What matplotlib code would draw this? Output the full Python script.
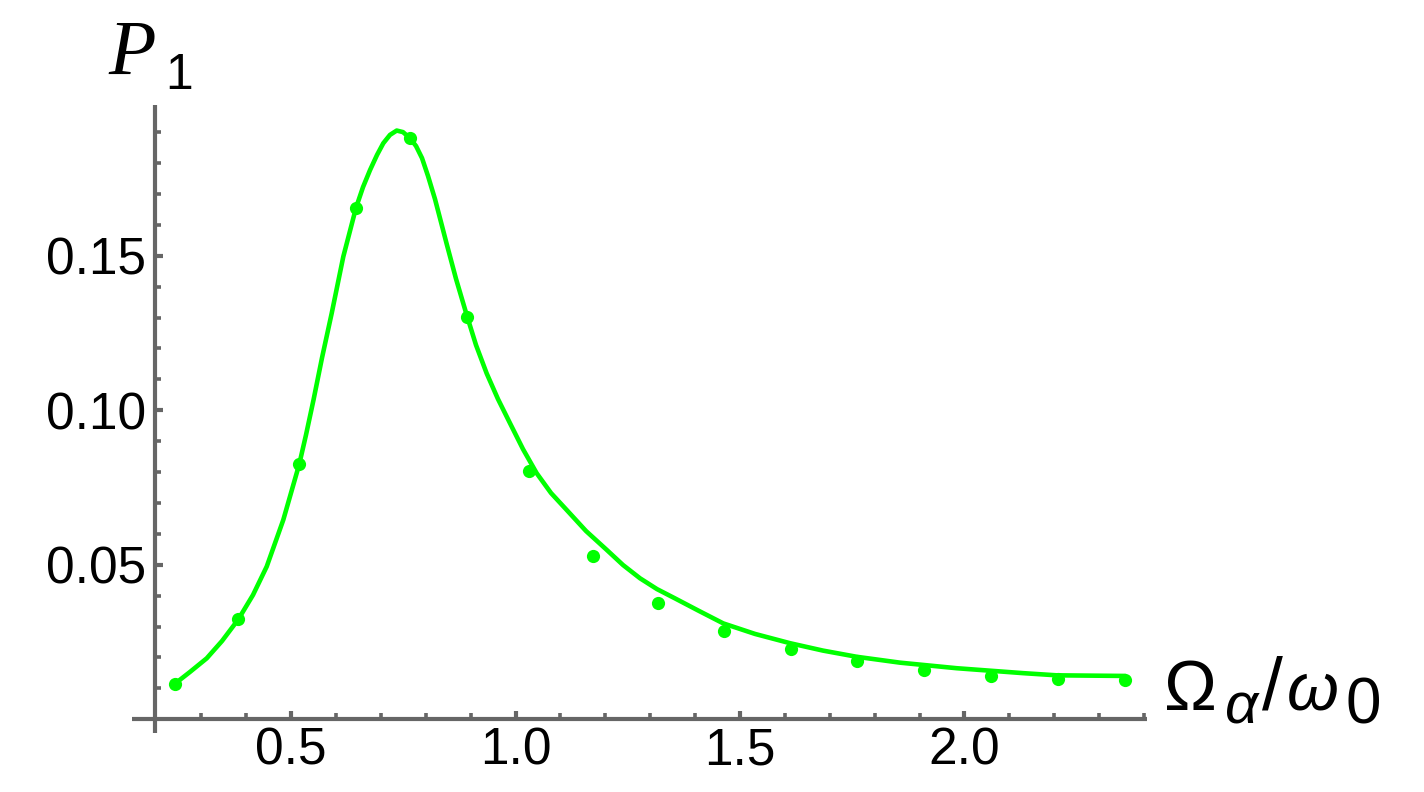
import matplotlib
matplotlib.use('Agg')
import matplotlib.pyplot as plt
from matplotlib.ticker import FixedLocator

# simulated points
point_x = [0.2415, 0.3825, 0.5184, 0.6447, 0.7650, 0.8926, 1.0300, 1.1730,
           1.3180, 1.4650, 1.6130, 1.7610, 1.9110, 2.0590, 2.2090, 2.3580]
point_y = [0.0115, 0.0323, 0.0826, 0.1655, 0.1880, 0.1303, 0.0804, 0.0528,
           0.0375, 0.0285, 0.0226, 0.0188, 0.0159, 0.0141, 0.0129, 0.0127]

# theory curve (sampled along the drawn line)
curve_x = [0.2415, 0.2749, 0.3121, 0.3462, 0.3825, 0.4152, 0.4458, 0.4827,
           0.5184, 0.5333, 0.5500, 0.5689, 0.5906, 0.6164, 0.6447, 0.6603,
           0.6759, 0.6915, 0.7055, 0.7204, 0.7354, 0.7494, 0.7650, 0.7784,
           0.7917, 0.8051, 0.8207, 0.8340, 0.8467, 0.8675, 0.8913, 0.9120,
           0.9358, 0.9610, 0.9877, 1.0167, 1.0472, 1.0791, 1.1141, 1.1571,
           1.2032, 1.2395, 1.2774, 1.3152, 1.3553, 1.4066, 1.4629, 1.5335,
           1.6115, 1.6850, 1.7601, 1.8565, 1.9828, 2.1312, 2.2056, 2.2798,
           2.3584]
curve_y = [0.0115, 0.0153, 0.0197, 0.0253, 0.0323, 0.0402, 0.0494, 0.0645,
           0.0826, 0.0920, 0.1033, 0.1169, 0.1314, 0.1497, 0.1655, 0.1722,
           0.1777, 0.1826, 0.1864, 0.1891, 0.1905, 0.1900, 0.1880, 0.1855,
           0.1816, 0.1758, 0.1683, 0.1609, 0.1538, 0.1425, 0.1308, 0.1211,
           0.1119, 0.1036, 0.0958, 0.0874, 0.0796, 0.0732, 0.0677, 0.0609,
           0.0548, 0.0499, 0.0456, 0.0421, 0.0391, 0.0352, 0.0310, 0.0276,
           0.0246, 0.0222, 0.0202, 0.0183, 0.0165, 0.0149, 0.0142, 0.0141,
           0.0140]

x_ticks = [0.5, 1.0, 1.5, 2.0]
x_tick_labels = ['0.5', '1.0', '1.5', '2.0']
y_ticks = [0.05, 0.10, 0.15]
y_tick_labels = ['0.05', '0.10', '0.15']

GREEN = '#00ff00'
AXIS_GRAY = '#666666'
W, H = 1424, 792

plt.rcParams['font.family'] = ['Liberation Sans', 'DejaVu Sans']

fig = plt.figure(figsize=(W / 100, H / 100), dpi=100)

# place the axes so that data -> pixel matches the reference
xlim = (0.1, 2.45)
ylim = (-0.01, 0.21)
px_x0, px_per_x = 66.6, 448.9      # pixel x of data x=0, pixels per unit
px_y0, px_per_y = 719.2, 3090.0    # pixel y (from top) of data y=0
left = px_x0 + px_per_x * xlim[0]
right = px_x0 + px_per_x * xlim[1]
bottom = px_y0 - px_per_y * ylim[0]
top = px_y0 - px_per_y * ylim[1]
ax = fig.add_axes([left / W, (H - bottom) / H, (right - left) / W, (bottom - top) / H])
ax.set_xlim(*xlim)
ax.set_ylim(*ylim)
ax.patch.set_visible(False)

ax.plot(curve_x, curve_y, color=GREEN, lw=3.3, solid_capstyle='round',
        solid_joinstyle='round', clip_on=False, zorder=3)
ax.plot(point_x, point_y, 'o', color=GREEN, ms=9.5, mec='none', clip_on=False, zorder=4)

# Mathematica style axes crossing at (0.196, 0)
for side in ['top', 'right']:
    ax.spines[side].set_visible(False)
ax.spines['left'].set_position(('data', 0.196))
ax.spines['bottom'].set_position(('data', 0.0))
ax.spines['left'].set_bounds(-0.0045, 0.1988)
ax.spines['bottom'].set_bounds(0.1457, 2.4067)
for side in ['left', 'bottom']:
    ax.spines[side].set_color(AXIS_GRAY)
    ax.spines[side].set_linewidth(3.0)
    ax.spines[side].set_capstyle('butt')

ax.set_xticks(x_ticks, x_tick_labels)
ax.set_yticks(y_ticks, y_tick_labels)
x_minor = [v / 10 for v in range(3, 25) if v % 5 != 0]
y_minor = [v / 100 for v in range(1, 20) if v % 5 != 0]
ax.xaxis.set_minor_locator(FixedLocator(x_minor))
ax.yaxis.set_minor_locator(FixedLocator(y_minor))

ax.tick_params(which='both', direction='in', color=AXIS_GRAY, labelsize=37,
               labelcolor='black')
ax.tick_params(which='major', length=6.0, width=3.0)
ax.tick_params(which='minor', length=4.0, width=2.6)
ax.tick_params(axis='x', which='major', pad=5)
ax.tick_params(axis='y', which='major', pad=6)


def px_text(x, y, s, **kw):
    fig.text(x / W, 1 - y / H, s, ha='left', va='baseline', **kw)


# y label P_1
px_text(108, 74, 'P', family='Liberation Serif', style='italic', fontsize=56)
px_text(165, 89, '1', family='Liberation Sans', fontsize=36)

# x label Omega_alpha / omega_0
px_text(1164, 710, '\u03a9', family='Liberation Sans', fontsize=51)
px_text(1225, 723, '\u03b1', family='Liberation Sans', style='italic', fontsize=42)
px_text(1262, 710, '/', family='Liberation Sans', fontsize=54)
px_text(1287, 710, '\u03c9', family='Liberation Sans', style='italic', fontsize=48)
px_text(1346, 723, '0', family='Liberation Sans', fontsize=46)

fig.savefig('out.png', dpi=100)
